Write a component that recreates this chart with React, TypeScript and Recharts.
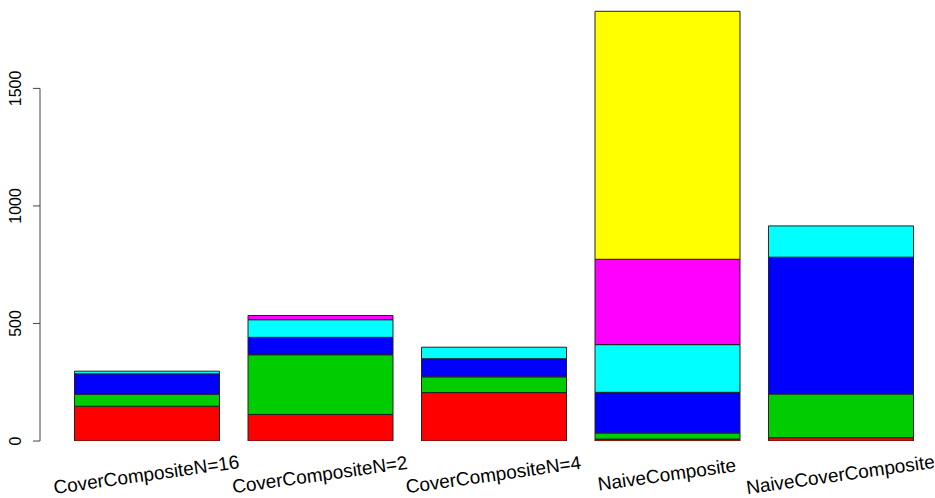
import React from 'react';
import { BarChart, Bar, XAxis, YAxis, ReferenceLine } from 'recharts';

const categories = [
  'CoverCompositeN=16',
  'CoverCompositeN=2',
  'CoverCompositeN=4',
  'NaiveComposite',
  'NaiveCoverComposite',
];

const red = [148, 113, 206, 8, 14];
const green = [51, 254, 67, 26, 186];
const blue = [87, 74, 77, 173, 582];
const cyan = [11, 75, 49, 203, 133];
const magenta = [0, 18, 0, 363, 0];
const yellow = [0, 0, 0, 1055, 0];

const yTicks = [0, 500, 1000, 1500];

const series = [
  { key: 'red', values: red, color: '#FF0000' },
  { key: 'green', values: green, color: '#00CD00' },
  { key: 'blue', values: blue, color: '#0000FF' },
  { key: 'cyan', values: cyan, color: '#00FFFF' },
  { key: 'magenta', values: magenta, color: '#FF00FF' },
  { key: 'yellow', values: yellow, color: '#FFFF00' },
];

const data = categories.map((name, i) => {
  const row: any = { name };
  series.forEach((s) => {
    row[s.key] = s.values[i];
  });
  return row;
});

const FONT = '"Liberation Sans", Arial, Helvetica, sans-serif';

const XTick = ({ x, y, payload }: any) => {
  const by = y + 32;
  return (
    <text
      x={x}
      y={by}
      textAnchor="middle"
      fontFamily={FONT}
      fontSize={19}
      fill="#000"
      transform={`rotate(-8, ${x}, ${by})`}
    >
      {payload.value}
    </text>
  );
};

const YTick = ({ y, payload }: any) => (
  <g>
    <line x1={33} x2={40} y1={y} y2={y} stroke="#444" strokeWidth={1} />
    <text
      x={21}
      y={y}
      textAnchor="middle"
      fontFamily={FONT}
      fontSize={16}
      fill="#000"
      transform={`rotate(-90, 21, ${y})`}
    >
      {payload.value}
    </text>
  </g>
);

export default function App() {
  return (
    <div style={{ width: 935, height: 498, background: '#fff' }}>
      <style>{'body{margin:0}'}</style>
      <BarChart
        width={935}
        height={498}
        data={data}
        margin={{ top: 0, right: 7, left: 0, bottom: 0 }}
      >
        <XAxis
          dataKey="name"
          height={57}
          interval={0}
          axisLine={false}
          tickLine={false}
          padding={{ left: 20.5, right: 0 }}
          tick={<XTick />}
        />
        <XAxis xAxisId="num" type="number" domain={[0, 1]} allowDataOverflow hide />
        <YAxis
          width={40}
          domain={[0, 1876]}
          ticks={yTicks}
          allowDataOverflow
          axisLine={false}
          tickLine={false}
          tick={<YTick />}
        />
        {series.map((s) => (
          <Bar
            key={s.key}
            dataKey={s.key}
            stackId="a"
            fill={s.color}
            stroke="#222"
            strokeWidth={1}
            barSize={145}
            isAnimationActive={false}
          />
        ))}
        <ReferenceLine
          xAxisId="num"
          segment={[
            { x: 0, y: 0 },
            { x: 0, y: 1500 },
          ]}
          stroke="#444"
          strokeWidth={1}
        />
      </BarChart>
    </div>
  );
}
